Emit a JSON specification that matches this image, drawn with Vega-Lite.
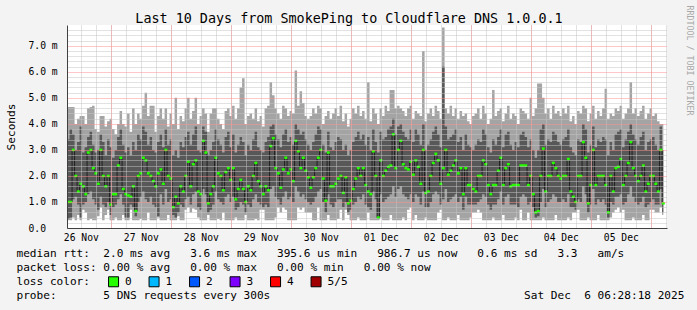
{
"$schema":"https://vega.github.io/schema/vega-lite/v6.json",
"autosize":{"type":"none"},
"width":600,"height":203,
"padding":{"left":67,"top":25,"right":30,"bottom":82},
"background":"#f3f3f3",
"config":{"view":{"fill":"#ffffff","stroke":null},"font":"DejaVu Sans Mono"},
"title":{"text":"Last 10 Days from SmokePing to Cloudflare DNS 1.0.0.1","font":"DejaVu Sans Mono","fontSize":13.4,"fontWeight":"normal","color":"#000000","anchor":"middle","frame":"bounds","offset":-20},
"data":{"values":[
{"t":"2025-11-26T06:00","a":0.3,"b":0.35,"m":1.8,"c":3.2,"d":4.3},
{"t":"2025-11-26T07:00","a":0.3,"b":0.35,"m":1.0,"c":3.4,"d":4.65},
{"t":"2025-11-26T08:00","a":0.3,"b":0.4,"m":1.0,"c":3.8,"d":4.65},
{"t":"2025-11-26T09:00","a":0.4,"b":1.1,"m":3.0,"c":3.6,"d":4.65},
{"t":"2025-11-26T10:00","a":0.3,"b":1.2,"m":2.0,"c":3.0,"d":4.0},
{"t":"2025-11-26T11:00","a":0.5,"b":0.9,"m":1.4,"c":3.3,"d":4.2},
{"t":"2025-11-26T12:00","a":0.3,"b":0.4,"m":1.7,"c":3.9,"d":4.3},
{"t":"2025-11-26T13:00","a":0.7,"b":0.9,"m":1.6,"c":2.9,"d":4.3},
{"t":"2025-11-26T14:00","a":0.6,"b":1.0,"m":1.3,"c":3.1,"d":4.0},
{"t":"2025-11-26T15:00","a":0.3,"b":1.3,"m":2.9,"c":3.5,"d":4.6},
{"t":"2025-11-26T16:00","a":0.35,"b":1.4,"m":3.0,"c":3.7,"d":4.65},
{"t":"2025-11-26T17:00","a":0.3,"b":1.1,"m":2.3,"c":3.2,"d":4.7},
{"t":"2025-11-26T18:00","a":0.3,"b":0.9,"m":2.1,"c":2.9,"d":3.8},
{"t":"2025-11-26T19:00","a":0.45,"b":0.7,"m":1.7,"c":3.0,"d":3.7},
{"t":"2025-11-26T20:00","a":0.8,"b":1.2,"m":3.0,"c":3.6,"d":4.3},
{"t":"2025-11-26T21:00","a":0.3,"b":0.9,"m":2.0,"c":3.3,"d":4.3},
{"t":"2025-11-26T22:00","a":0.5,"b":0.8,"m":1.6,"c":2.8,"d":3.9},
{"t":"2025-11-26T23:00","a":0.7,"b":1.0,"m":2.0,"c":3.4,"d":4.1},
{"t":"2025-11-27T00:00","a":0.3,"b":0.5,"m":0.9,"c":3.1,"d":4.2},
{"t":"2025-11-27T01:00","a":0.3,"b":0.8,"m":1.3,"c":2.7,"d":3.8},
{"t":"2025-11-27T02:00","a":0.4,"b":0.9,"m":1.3,"c":3.0,"d":3.6},
{"t":"2025-11-27T03:00","a":0.3,"b":1.1,"m":2.4,"c":3.5,"d":4.0},
{"t":"2025-11-27T04:00","a":0.3,"b":1.3,"m":2.7,"c":3.8,"d":4.5},
{"t":"2025-11-27T05:00","a":0.5,"b":0.9,"m":1.5,"c":3.2,"d":4.0},
{"t":"2025-11-27T06:00","a":0.3,"b":0.4,"m":1.3,"c":2.9,"d":3.9},
{"t":"2025-11-27T07:00","a":0.3,"b":0.4,"m":1.25,"c":3.1,"d":4.4},
{"t":"2025-11-27T08:00","a":0.7,"b":0.9,"m":1.2,"c":2.8,"d":3.7},
{"t":"2025-11-27T09:00","a":0.3,"b":0.8,"m":1.6,"c":3.3,"d":4.6},
{"t":"2025-11-27T10:00","a":0.3,"b":0.45,"m":0.65,"c":3.0,"d":4.0},
{"t":"2025-11-27T11:00","a":0.3,"b":1.0,"m":2.0,"c":3.6,"d":4.4},
{"t":"2025-11-27T12:00","a":0.35,"b":1.2,"m":2.1,"c":3.4,"d":4.2},
{"t":"2025-11-27T13:00","a":0.3,"b":1.4,"m":2.7,"c":3.9,"d":4.7},
{"t":"2025-11-27T14:00","a":0.3,"b":1.1,"m":2.6,"c":3.7,"d":5.2},
{"t":"2025-11-27T15:00","a":0.6,"b":1.0,"m":2.1,"c":3.2,"d":4.3},
{"t":"2025-11-27T16:00","a":0.3,"b":1.2,"m":2.0,"c":3.5,"d":4.7},
{"t":"2025-11-27T17:00","a":0.3,"b":0.9,"m":1.8,"c":3.0,"d":4.7},
{"t":"2025-11-27T18:00","a":0.3,"b":0.8,"m":1.6,"c":2.9,"d":3.7},
{"t":"2025-11-27T19:00","a":0.4,"b":0.45,"m":2.1,"c":3.3,"d":4.3},
{"t":"2025-11-27T20:00","a":0.3,"b":1.3,"m":2.25,"c":3.6,"d":4.6},
{"t":"2025-11-27T21:00","a":0.3,"b":0.9,"m":1.7,"c":3.1,"d":4.2},
{"t":"2025-11-27T22:00","a":0.3,"b":1.5,"m":3.0,"c":3.8,"d":4.6},
{"t":"2025-11-27T23:00","a":0.5,"b":1.0,"m":2.0,"c":3.2,"d":3.9},
{"t":"2025-11-28T00:00","a":0.3,"b":1.1,"m":1.9,"c":3.4,"d":4.4},
{"t":"2025-11-28T01:00","a":0.3,"b":0.5,"m":0.8,"c":2.8,"d":4.0},
{"t":"2025-11-28T02:00","a":0.3,"b":0.4,"m":1.2,"c":3.0,"d":5.0},
{"t":"2025-11-28T03:00","a":0.45,"b":0.6,"m":0.95,"c":2.7,"d":3.8},
{"t":"2025-11-28T04:00","a":0.3,"b":0.9,"m":1.6,"c":3.3,"d":4.3},
{"t":"2025-11-28T05:00","a":0.3,"b":0.8,"m":1.4,"c":3.1,"d":4.1},
{"t":"2025-11-28T06:00","a":0.7,"b":1.1,"m":2.0,"c":3.5,"d":4.6},
{"t":"2025-11-28T07:00","a":0.8,"b":1.2,"m":2.55,"c":3.7,"d":5.0},
{"t":"2025-11-28T08:00","a":0.6,"b":0.9,"m":1.6,"c":3.2,"d":4.2},
{"t":"2025-11-28T09:00","a":0.75,"b":1.3,"m":2.45,"c":3.6,"d":4.5},
{"t":"2025-11-28T10:00","a":0.7,"b":1.4,"m":2.6,"c":3.9,"d":5.0},
{"t":"2025-11-28T11:00","a":0.4,"b":0.8,"m":1.4,"c":3.0,"d":4.0},
{"t":"2025-11-28T12:00","a":0.3,"b":0.7,"m":1.3,"c":2.9,"d":4.3},
{"t":"2025-11-28T13:00","a":0.3,"b":1.5,"m":3.35,"c":3.9,"d":4.6},
{"t":"2025-11-28T14:00","a":0.3,"b":1.3,"m":2.9,"c":3.7,"d":4.4},
{"t":"2025-11-28T15:00","a":0.5,"b":0.6,"m":0.95,"c":2.8,"d":3.7},
{"t":"2025-11-28T16:00","a":0.3,"b":0.7,"m":1.3,"c":3.0,"d":4.4},
{"t":"2025-11-28T17:00","a":0.3,"b":0.9,"m":1.6,"c":3.3,"d":4.6},
{"t":"2025-11-28T18:00","a":0.3,"b":1.4,"m":2.7,"c":3.8,"d":4.6},
{"t":"2025-11-28T19:00","a":0.35,"b":1.1,"m":2.1,"c":3.4,"d":4.2},
{"t":"2025-11-28T20:00","a":0.3,"b":1.0,"m":2.0,"c":3.2,"d":4.0},
{"t":"2025-11-28T21:00","a":0.6,"b":0.9,"m":1.45,"c":2.9,"d":3.8},
{"t":"2025-11-28T22:00","a":0.3,"b":1.2,"m":2.15,"c":3.5,"d":4.5},
{"t":"2025-11-28T23:00","a":0.3,"b":1.3,"m":2.3,"c":3.7,"d":4.6},
{"t":"2025-11-29T00:00","a":0.3,"b":1.0,"m":1.85,"c":3.1,"d":4.3},
{"t":"2025-11-29T01:00","a":0.3,"b":1.2,"m":2.3,"c":3.6,"d":4.7},
{"t":"2025-11-29T02:00","a":0.4,"b":0.7,"m":1.1,"c":2.9,"d":4.2},
{"t":"2025-11-29T03:00","a":0.3,"b":0.8,"m":1.5,"c":3.2,"d":4.6},
{"t":"2025-11-29T04:00","a":0.3,"b":1.0,"m":1.85,"c":3.5,"d":5.4},
{"t":"2025-11-29T05:00","a":0.3,"b":0.9,"m":1.5,"c":3.3,"d":5.75},
{"t":"2025-11-29T06:00","a":0.5,"b":0.6,"m":1.0,"c":2.8,"d":4.0},
{"t":"2025-11-29T07:00","a":0.3,"b":0.9,"m":1.6,"c":3.2,"d":4.3},
{"t":"2025-11-29T08:00","a":0.3,"b":0.8,"m":1.45,"c":3.0,"d":4.4},
{"t":"2025-11-29T09:00","a":0.3,"b":1.1,"m":2.0,"c":3.4,"d":4.2},
{"t":"2025-11-29T10:00","a":0.35,"b":1.3,"m":2.5,"c":3.7,"d":4.6},
{"t":"2025-11-29T11:00","a":0.3,"b":1.0,"m":1.8,"c":3.1,"d":4.1},
{"t":"2025-11-29T12:00","a":0.7,"b":0.9,"m":1.6,"c":3.0,"d":4.3},
{"t":"2025-11-29T13:00","a":0.7,"b":0.8,"m":1.3,"c":2.9,"d":3.9},
{"t":"2025-11-29T14:00","a":0.3,"b":0.9,"m":1.6,"c":3.3,"d":4.6},
{"t":"2025-11-29T15:00","a":0.3,"b":0.8,"m":1.45,"c":3.5,"d":4.7},
{"t":"2025-11-29T16:00","a":0.3,"b":1.5,"m":3.15,"c":3.9,"d":5.6},
{"t":"2025-11-29T17:00","a":0.3,"b":1.6,"m":3.45,"c":4.0,"d":5.1},
{"t":"2025-11-29T18:00","a":0.4,"b":1.2,"m":2.3,"c":3.6,"d":4.6},
{"t":"2025-11-29T19:00","a":0.8,"b":1.1,"m":2.1,"c":3.4,"d":4.4},
{"t":"2025-11-29T20:00","a":0.6,"b":0.9,"m":1.55,"c":3.1,"d":4.2},
{"t":"2025-11-29T21:00","a":0.8,"b":1.2,"m":2.25,"c":3.6,"d":4.7},
{"t":"2025-11-29T22:00","a":0.7,"b":1.4,"m":2.7,"c":3.8,"d":4.6},
{"t":"2025-11-29T23:00","a":0.3,"b":1.1,"m":2.1,"c":3.3,"d":4.3},
{"t":"2025-11-30T00:00","a":0.3,"b":1.2,"m":2.25,"c":3.5,"d":4.5},
{"t":"2025-11-30T01:00","a":0.3,"b":1.0,"m":1.8,"c":3.2,"d":4.4},
{"t":"2025-11-30T02:00","a":0.3,"b":1.6,"m":3.35,"c":4.0,"d":6.05},
{"t":"2025-11-30T03:00","a":0.8,"b":1.4,"m":2.95,"c":3.8,"d":4.7},
{"t":"2025-11-30T04:00","a":0.7,"b":1.2,"m":2.3,"c":3.6,"d":5.25},
{"t":"2025-11-30T05:00","a":0.8,"b":1.3,"m":2.7,"c":3.7,"d":4.8},
{"t":"2025-11-30T06:00","a":0.6,"b":1.1,"m":2.2,"c":3.4,"d":4.3},
{"t":"2025-11-30T07:00","a":0.6,"b":1.0,"m":1.95,"c":3.2,"d":4.2},
{"t":"2025-11-30T08:00","a":0.6,"b":0.9,"m":1.55,"c":3.0,"d":4.3},
{"t":"2025-11-30T09:00","a":0.3,"b":1.0,"m":1.95,"c":3.3,"d":4.6},
{"t":"2025-11-30T10:00","a":0.3,"b":1.2,"m":2.3,"c":3.6,"d":4.4},
{"t":"2025-11-30T11:00","a":0.8,"b":1.4,"m":2.7,"c":3.9,"d":4.7},
{"t":"2025-11-30T12:00","a":0.3,"b":1.5,"m":3.0,"c":3.8,"d":4.6},
{"t":"2025-11-30T13:00","a":0.3,"b":1.0,"m":1.9,"c":3.2,"d":4.0},
{"t":"2025-11-30T14:00","a":0.3,"b":0.6,"m":1.05,"c":2.9,"d":4.3},
{"t":"2025-11-30T15:00","a":0.5,"b":1.3,"m":2.9,"c":3.7,"d":4.5},
{"t":"2025-11-30T16:00","a":0.3,"b":0.9,"m":1.6,"c":3.1,"d":4.2},
{"t":"2025-11-30T17:00","a":0.3,"b":0.8,"m":1.6,"c":3.0,"d":4.4},
{"t":"2025-11-30T18:00","a":0.3,"b":1.0,"m":1.7,"c":3.3,"d":4.6},
{"t":"2025-11-30T19:00","a":0.35,"b":1.1,"m":1.9,"c":3.5,"d":4.3},
{"t":"2025-11-30T20:00","a":0.7,"b":1.1,"m":2.0,"c":3.4,"d":4.7},
{"t":"2025-11-30T21:00","a":0.3,"b":0.8,"m":1.35,"c":3.0,"d":4.1},
{"t":"2025-11-30T22:00","a":0.7,"b":1.0,"m":1.95,"c":3.2,"d":4.4},
{"t":"2025-11-30T23:00","a":0.5,"b":0.6,"m":0.95,"c":2.8,"d":3.9},
{"t":"2025-12-01T00:00","a":0.3,"b":0.7,"m":1.05,"c":3.0,"d":4.2},
{"t":"2025-12-01T01:00","a":0.3,"b":0.9,"m":1.5,"c":3.3,"d":4.6},
{"t":"2025-12-01T02:00","a":0.3,"b":1.0,"m":1.9,"c":3.5,"d":4.4},
{"t":"2025-12-01T03:00","a":0.4,"b":1.2,"m":2.3,"c":3.7,"d":4.7},
{"t":"2025-12-01T04:00","a":0.3,"b":1.1,"m":2.0,"c":3.4,"d":4.3},
{"t":"2025-12-01T05:00","a":0.3,"b":1.3,"m":2.3,"c":3.6,"d":4.5},
{"t":"2025-12-01T06:00","a":0.3,"b":0.9,"m":1.65,"c":3.2,"d":4.2},
{"t":"2025-12-01T07:00","a":0.6,"b":0.8,"m":1.4,"c":3.5,"d":5.6},
{"t":"2025-12-01T08:00","a":0.3,"b":0.7,"m":1.3,"c":3.0,"d":4.1},
{"t":"2025-12-01T09:00","a":0.3,"b":1.4,"m":2.95,"c":3.8,"d":4.6},
{"t":"2025-12-01T10:00","a":0.3,"b":1.1,"m":2.0,"c":3.3,"d":4.4},
{"t":"2025-12-01T11:00","a":0.3,"b":0.35,"m":0.4,"c":2.9,"d":4.0},
{"t":"2025-12-01T12:00","a":0.4,"b":1.3,"m":2.6,"c":3.7,"d":4.6},
{"t":"2025-12-01T13:00","a":0.3,"b":1.0,"m":2.0,"c":3.4,"d":4.3},
{"t":"2025-12-01T14:00","a":0.3,"b":1.1,"m":2.2,"c":3.5,"d":4.7},
{"t":"2025-12-01T15:00","a":0.3,"b":1.2,"m":2.35,"c":3.8,"d":4.5},
{"t":"2025-12-01T16:00","a":0.5,"b":1.3,"m":2.4,"c":3.9,"d":5.3},
{"t":"2025-12-01T17:00","a":0.3,"b":1.6,"m":3.6,"c":4.2,"d":5.3},
{"t":"2025-12-01T18:00","a":0.3,"b":1.2,"m":2.3,"c":3.6,"d":4.6},
{"t":"2025-12-01T19:00","a":0.3,"b":1.5,"m":3.0,"c":3.9,"d":4.7},
{"t":"2025-12-01T20:00","a":0.3,"b":1.6,"m":3.35,"c":4.0,"d":4.6},
{"t":"2025-12-01T21:00","a":0.4,"b":1.3,"m":2.45,"c":3.7,"d":4.5},
{"t":"2025-12-01T22:00","a":0.3,"b":1.2,"m":2.3,"c":3.5,"d":4.3},
{"t":"2025-12-01T23:00","a":0.7,"b":1.1,"m":2.25,"c":3.4,"d":4.6},
{"t":"2025-12-02T00:00","a":0.8,"b":1.3,"m":2.55,"c":3.8,"d":4.7},
{"t":"2025-12-02T01:00","a":0.3,"b":1.0,"m":2.05,"c":3.3,"d":4.2},
{"t":"2025-12-02T02:00","a":0.5,"b":1.3,"m":2.6,"c":3.8,"d":4.5},
{"t":"2025-12-02T03:00","a":0.3,"b":1.2,"m":2.35,"c":3.6,"d":4.4},
{"t":"2025-12-02T04:00","a":0.3,"b":0.9,"m":1.7,"c":3.2,"d":4.3},
{"t":"2025-12-02T05:00","a":0.3,"b":1.4,"m":3.0,"c":4.0,"d":6.8},
{"t":"2025-12-02T06:00","a":0.4,"b":0.8,"m":1.35,"c":3.0,"d":4.1},
{"t":"2025-12-02T07:00","a":0.3,"b":0.8,"m":1.4,"c":3.2,"d":4.4},
{"t":"2025-12-02T08:00","a":0.3,"b":1.0,"m":2.0,"c":3.4,"d":4.6},
{"t":"2025-12-02T09:00","a":0.3,"b":1.3,"m":2.5,"c":3.7,"d":4.3},
{"t":"2025-12-02T10:00","a":0.3,"b":1.4,"m":2.85,"c":3.9,"d":4.7},
{"t":"2025-12-02T11:00","a":0.6,"b":1.3,"m":2.6,"c":3.6,"d":4.5},
{"t":"2025-12-02T12:00","a":0.7,"b":0.9,"m":1.7,"c":3.1,"d":4.2},
{"t":"2025-12-02T13:00","a":0.3,"b":1.1,"m":2.3,"c":6.2,"d":7.7},
{"t":"2025-12-02T14:00","a":0.3,"b":1.5,"m":3.0,"c":3.9,"d":4.6},
{"t":"2025-12-02T15:00","a":0.4,"b":1.0,"m":2.05,"c":3.4,"d":4.4},
{"t":"2025-12-02T16:00","a":0.3,"b":1.1,"m":2.2,"c":3.5,"d":4.7},
{"t":"2025-12-02T17:00","a":0.3,"b":1.2,"m":2.4,"c":3.6,"d":4.3},
{"t":"2025-12-02T18:00","a":0.3,"b":1.3,"m":2.6,"c":3.8,"d":4.6},
{"t":"2025-12-02T19:00","a":0.5,"b":1.0,"m":2.1,"c":3.3,"d":4.2},
{"t":"2025-12-02T20:00","a":0.3,"b":1.2,"m":2.3,"c":3.5,"d":4.5},
{"t":"2025-12-02T21:00","a":0.3,"b":0.7,"m":1.3,"c":3.0,"d":4.3},
{"t":"2025-12-02T22:00","a":0.3,"b":1.2,"m":2.3,"c":3.6,"d":4.4},
{"t":"2025-12-02T23:00","a":0.3,"b":0.9,"m":1.65,"c":3.2,"d":4.1},
{"t":"2025-12-03T00:00","a":0.4,"b":0.9,"m":1.65,"c":3.1,"d":4.0},
{"t":"2025-12-03T01:00","a":0.6,"b":0.9,"m":1.5,"c":3.0,"d":4.3},
{"t":"2025-12-03T02:00","a":0.6,"b":0.9,"m":1.4,"c":3.2,"d":4.4},
{"t":"2025-12-03T03:00","a":0.7,"b":1.0,"m":2.0,"c":3.4,"d":4.6},
{"t":"2025-12-03T04:00","a":0.6,"b":1.1,"m":2.0,"c":3.3,"d":4.2},
{"t":"2025-12-03T05:00","a":0.3,"b":1.3,"m":2.6,"c":3.8,"d":4.7},
{"t":"2025-12-03T06:00","a":0.3,"b":1.2,"m":2.45,"c":3.6,"d":4.4},
{"t":"2025-12-03T07:00","a":0.3,"b":0.9,"m":1.65,"c":3.1,"d":4.0},
{"t":"2025-12-03T08:00","a":0.3,"b":0.7,"m":1.3,"c":2.9,"d":4.2},
{"t":"2025-12-03T09:00","a":0.4,"b":0.9,"m":1.65,"c":3.4,"d":5.3},
{"t":"2025-12-03T10:00","a":0.3,"b":0.9,"m":1.65,"c":3.2,"d":4.3},
{"t":"2025-12-03T11:00","a":0.3,"b":1.1,"m":2.2,"c":3.5,"d":4.5},
{"t":"2025-12-03T12:00","a":0.3,"b":1.4,"m":2.7,"c":3.8,"d":4.6},
{"t":"2025-12-03T13:00","a":0.5,"b":0.9,"m":1.65,"c":3.1,"d":4.1},
{"t":"2025-12-03T14:00","a":0.3,"b":1.2,"m":2.3,"c":3.6,"d":4.4},
{"t":"2025-12-03T15:00","a":0.3,"b":1.3,"m":2.45,"c":3.7,"d":4.7},
{"t":"2025-12-03T16:00","a":0.3,"b":0.9,"m":1.6,"c":3.2,"d":4.2},
{"t":"2025-12-03T17:00","a":0.3,"b":0.9,"m":1.65,"c":3.0,"d":4.4},
{"t":"2025-12-03T18:00","a":0.4,"b":0.9,"m":1.65,"c":3.3,"d":4.3},
{"t":"2025-12-03T19:00","a":0.3,"b":0.8,"m":1.65,"c":3.1,"d":4.0},
{"t":"2025-12-03T20:00","a":0.7,"b":1.2,"m":2.4,"c":3.6,"d":4.6},
{"t":"2025-12-03T21:00","a":0.3,"b":1.3,"m":2.4,"c":3.7,"d":4.5},
{"t":"2025-12-03T22:00","a":0.3,"b":1.2,"m":2.4,"c":3.5,"d":4.4},
{"t":"2025-12-03T23:00","a":0.6,"b":0.9,"m":1.65,"c":3.1,"d":4.2},
{"t":"2025-12-04T00:00","a":0.3,"b":1.0,"m":2.0,"c":3.4,"d":5.0},
{"t":"2025-12-04T01:00","a":0.3,"b":0.8,"m":1.3,"c":3.0,"d":4.3},
{"t":"2025-12-04T02:00","a":0.3,"b":0.4,"m":0.6,"c":2.7,"d":4.6},
{"t":"2025-12-04T03:00","a":0.3,"b":0.45,"m":0.65,"c":3.0,"d":5.55},
{"t":"2025-12-04T04:00","a":0.3,"b":1.0,"m":2.0,"c":3.8,"d":5.55},
{"t":"2025-12-04T05:00","a":0.4,"b":1.5,"m":3.05,"c":4.0,"d":5.0},
{"t":"2025-12-04T06:00","a":0.3,"b":0.8,"m":1.4,"c":3.2,"d":4.4},
{"t":"2025-12-04T07:00","a":0.3,"b":1.0,"m":2.0,"c":3.4,"d":4.6},
{"t":"2025-12-04T08:00","a":0.3,"b":1.1,"m":2.0,"c":3.3,"d":4.2},
{"t":"2025-12-04T09:00","a":0.3,"b":1.3,"m":2.5,"c":3.7,"d":4.7},
{"t":"2025-12-04T10:00","a":0.5,"b":1.2,"m":2.3,"c":3.6,"d":4.4},
{"t":"2025-12-04T11:00","a":0.3,"b":1.0,"m":2.0,"c":3.3,"d":4.5},
{"t":"2025-12-04T12:00","a":0.3,"b":1.0,"m":1.9,"c":3.2,"d":4.3},
{"t":"2025-12-04T13:00","a":0.3,"b":1.1,"m":2.0,"c":3.4,"d":4.6},
{"t":"2025-12-04T14:00","a":0.3,"b":1.0,"m":2.0,"c":3.5,"d":4.4},
{"t":"2025-12-04T15:00","a":0.4,"b":1.3,"m":2.65,"c":3.8,"d":4.7},
{"t":"2025-12-04T16:00","a":0.3,"b":0.8,"m":1.4,"c":3.1,"d":4.1},
{"t":"2025-12-04T17:00","a":0.6,"b":0.8,"m":1.2,"c":2.9,"d":4.3},
{"t":"2025-12-04T18:00","a":0.6,"b":0.7,"m":1.0,"c":2.8,"d":4.0},
{"t":"2025-12-04T19:00","a":0.7,"b":1.1,"m":2.0,"c":3.4,"d":4.5},
{"t":"2025-12-04T20:00","a":0.3,"b":1.0,"m":2.0,"c":3.3,"d":4.4},
{"t":"2025-12-04T21:00","a":0.3,"b":1.6,"m":3.3,"c":4.0,"d":4.7},
{"t":"2025-12-04T22:00","a":0.3,"b":1.3,"m":2.7,"c":3.8,"d":4.6},
{"t":"2025-12-04T23:00","a":0.4,"b":0.6,"m":0.95,"c":2.9,"d":4.1},
{"t":"2025-12-05T00:00","a":0.3,"b":0.9,"m":1.65,"c":3.2,"d":4.4},
{"t":"2025-12-05T01:00","a":0.3,"b":1.5,"m":3.0,"c":3.9,"d":4.7},
{"t":"2025-12-05T02:00","a":0.3,"b":0.9,"m":1.65,"c":3.1,"d":4.2},
{"t":"2025-12-05T03:00","a":0.5,"b":1.1,"m":2.0,"c":3.4,"d":4.5},
{"t":"2025-12-05T04:00","a":0.3,"b":1.0,"m":2.0,"c":3.3,"d":4.3},
{"t":"2025-12-05T05:00","a":0.3,"b":1.1,"m":2.0,"c":3.5,"d":4.6},
{"t":"2025-12-05T06:00","a":0.3,"b":0.9,"m":1.65,"c":3.4,"d":5.35},
{"t":"2025-12-05T07:00","a":0.3,"b":0.4,"m":0.6,"c":2.8,"d":4.2},
{"t":"2025-12-05T08:00","a":0.4,"b":1.0,"m":2.0,"c":3.3,"d":4.4},
{"t":"2025-12-05T09:00","a":0.6,"b":0.9,"m":1.4,"c":3.0,"d":4.3},
{"t":"2025-12-05T10:00","a":0.7,"b":1.2,"m":2.3,"c":3.6,"d":4.6},
{"t":"2025-12-05T11:00","a":0.8,"b":1.2,"m":2.35,"c":3.7,"d":4.5},
{"t":"2025-12-05T12:00","a":0.6,"b":1.3,"m":2.65,"c":3.8,"d":4.7},
{"t":"2025-12-05T13:00","a":0.7,"b":0.9,"m":1.65,"c":3.1,"d":4.2},
{"t":"2025-12-05T14:00","a":0.3,"b":1.0,"m":2.0,"c":3.4,"d":4.4},
{"t":"2025-12-05T15:00","a":0.3,"b":1.3,"m":2.5,"c":3.7,"d":4.6},
{"t":"2025-12-05T16:00","a":0.3,"b":1.6,"m":3.3,"c":4.0,"d":5.6},
{"t":"2025-12-05T17:00","a":0.4,"b":1.2,"m":2.3,"c":3.6,"d":4.4},
{"t":"2025-12-05T18:00","a":0.3,"b":1.0,"m":2.0,"c":3.4,"d":4.6},
{"t":"2025-12-05T19:00","a":0.3,"b":0.9,"m":1.8,"c":3.2,"d":4.3},
{"t":"2025-12-05T20:00","a":0.3,"b":1.0,"m":2.0,"c":3.5,"d":4.5},
{"t":"2025-12-05T21:00","a":0.5,"b":1.2,"m":2.4,"c":3.7,"d":4.7},
{"t":"2025-12-05T22:00","a":0.3,"b":0.8,"m":1.4,"c":3.0,"d":4.2},
{"t":"2025-12-05T23:00","a":0.3,"b":0.9,"m":1.7,"c":3.3,"d":4.4},
{"t":"2025-12-06T00:00","a":0.7,"b":1.0,"m":2.0,"c":3.4,"d":4.6},
{"t":"2025-12-06T01:00","a":0.7,"b":1.1,"m":2.0,"c":3.5,"d":4.3},
{"t":"2025-12-06T02:00","a":0.6,"b":0.9,"m":1.7,"c":3.2,"d":4.4},
{"t":"2025-12-06T03:00","a":0.6,"b":0.9,"m":1.4,"c":3.0,"d":4.1},
{"t":"2025-12-06T04:00","a":0.8,"b":1.5,"m":3.0,"c":3.9,"d":4.0},
{"t":"2025-12-06T05:00","a":0.5,"b":0.6,"m":0.95,"c":3.0,"d":4.0}
]},
"layer":[
 {"mark":{"type":"area","interpolate":"step","color":"#a4a4a4","clip":true,"opacity":1},
  "encoding":{
   "x":{"field":"t","type":"temporal",
    "scale":{"domain":[{"year":2025,"month":11,"date":26,"hours":6,"minutes":28,"seconds":18},{"year":2025,"month":12,"date":6,"hours":6,"minutes":28,"seconds":18}]},
    "axis":{"orient":"bottom","grid":false,"ticks":false,"domain":false,"labels":false,
     "title":["median\u00a0rtt:\u00a0\u00a02.0\u00a0ms\u00a0avg\u00a0\u00a0\u00a03.6\u00a0ms\u00a0max\u00a0\u00a0\u00a0395.6\u00a0us\u00a0min\u00a0\u00a0\u00a0986.7\u00a0us\u00a0now\u00a0\u00a0\u00a00.6\u00a0ms\u00a0sd\u00a0\u00a0\u00a03.3\u00a0\u00a0\u00a0am/s",
      "packet\u00a0loss:\u00a00.00\u00a0%\u00a0avg\u00a0\u00a0\u00a00.00\u00a0%\u00a0max\u00a0\u00a0\u00a00.00\u00a0%\u00a0min\u00a0\u00a0\u00a00.00\u00a0%\u00a0now",
      "loss\u00a0color:",
      "probe:\u00a0\u00a0\u00a0\u00a0\u00a0\u00a0\u00a05\u00a0DNS\u00a0requests\u00a0every\u00a0300s\u00a0\u00a0\u00a0\u00a0\u00a0\u00a0\u00a0\u00a0\u00a0\u00a0\u00a0\u00a0\u00a0\u00a0\u00a0\u00a0\u00a0\u00a0\u00a0\u00a0\u00a0\u00a0\u00a0\u00a0\u00a0\u00a0\u00a0\u00a0\u00a0\u00a0\u00a0\u00a0\u00a0\u00a0\u00a0\u00a0\u00a0\u00a0Sat\u00a0Dec\u00a0\u00a06\u00a006:28:18\u00a02025"],
     "titleFont":"DejaVu Sans Mono","titleFontSize":11.1,"titleFontWeight":"normal","titleColor":"#000000",
     "titleAnchor":"start","titleAlign":"left","titleBaseline":"top","titleX":-51,"titleY":19,"titleLineHeight":14}},
   "y":{"field":"d","type":"quantitative","scale":{"domain":[0,7.8],"nice":false},
    "axis":{"title":"Seconds","titleFont":"DejaVu Sans Mono","titleFontSize":11.1,"titleFontWeight":"normal","titleColor":"#000000","titlePadding":12,
     "values":[0,0.2,0.4,0.6,0.8,1,1.2,1.4,1.6,1.8,2,2.2,2.4,2.6,2.8,3,3.2,3.4,3.6,3.8,4,4.2,4.4,4.6,4.8,5,5.2,5.4,5.6,5.8,6,6.2,6.4,6.6,6.8,7,7.2,7.4,7.6],
     "labelExpr":"datum.value % 1 == 0 ? (datum.value == 0 ? '0.0' : format(datum.value, '.1f') + ' m') : ''",
     "labelFont":"DejaVu Sans Mono","labelFontSize":9.7,"labelColor":"#000000","labelAlign":"left","labelPadding":39,"labelOverlap":false,"labelFlush":false,
     "ticks":false,"domainColor":"#404040",
     "grid":true,"gridDash":[1,1],"gridOpacity":1,
     "gridColor":{"condition":{"test":"datum.value % 1 == 0","value":"#ff9090"},"value":"#c4c4c4"},
     "zindex":1}},
   "y2":{"field":"a"}}},
 {"mark":{"type":"area","interpolate":"step","color":"#585858","clip":true,"opacity":1},
  "encoding":{
   "x":{"field":"t","type":"temporal",
    "axis":{"orient":"bottom","title":null,"grid":true,"gridColor":"#c4c4c4","gridDash":[1,1],"gridOpacity":1,"tickCount":40,"labels":false,"ticks":false,"domain":false,"zindex":1}},
   "y":{"field":"c","type":"quantitative","scale":{"domain":[0,7.8],"nice":false},
    "axis":{"orient":"right","labels":false,"ticks":false,"domain":false,"grid":false,
     "title":"RRDTOOL / TOBI OETIKER","titleAngle":90,"titleX":21,"titleY":-20,"titleAlign":"left","titleBaseline":"middle",
     "titleFont":"DejaVu Sans Mono","titleFontSize":8.3,"titleFontWeight":"normal","titleColor":"#a8a8a8"}},
   "y2":{"field":"b"}}},
 {"mark":{"type":"line","interpolate":"step","color":"#202020","strokeWidth":1,"clip":true},
  "encoding":{
   "x":{"field":"t","type":"temporal",
    "axis":{"orient":"bottom","title":null,"grid":true,"gridColor":"#ff9090","gridDash":[1,1],"gridOpacity":1,
     "values":[{"year":2025,"month":11,"date":27},{"year":2025,"month":11,"date":28},{"year":2025,"month":11,"date":29},{"year":2025,"month":11,"date":30},{"year":2025,"month":12,"date":1},{"year":2025,"month":12,"date":2},{"year":2025,"month":12,"date":3},{"year":2025,"month":12,"date":4},{"year":2025,"month":12,"date":5},{"year":2025,"month":12,"date":6}],
     "labels":false,"ticks":false,"domain":false,"zindex":1}},
   "y":{"field":"m","type":"quantitative","scale":{"domain":[0,7.8],"nice":false},"axis":null}}},
 {"mark":{"type":"tick","orient":"horizontal","size":3,"thickness":2.5,"clip":true,"opacity":1},
  "encoding":{"x":{"field":"t","type":"temporal",
    "axis":{"orient":"bottom","title":null,"grid":false,"ticks":false,"domain":true,"domainColor":"#404040",
     "values":[{"year":2025,"month":11,"date":26,"hours":12},{"year":2025,"month":11,"date":27,"hours":12},{"year":2025,"month":11,"date":28,"hours":12},{"year":2025,"month":11,"date":29,"hours":12},{"year":2025,"month":11,"date":30,"hours":12},{"year":2025,"month":12,"date":1,"hours":12},{"year":2025,"month":12,"date":2,"hours":12},{"year":2025,"month":12,"date":3,"hours":12},{"year":2025,"month":12,"date":4,"hours":12},{"year":2025,"month":12,"date":5,"hours":12}],
     "format":"%d %b","labelFont":"DejaVu Sans Mono","labelFontSize":9.7,"labelColor":"#000000","labelPadding":4,"labelFlush":false,"labelOverlap":false,"zindex":1}},
   "y":{"field":"m","type":"quantitative","scale":{"domain":[0,7.8],"nice":false},"axis":null},
   "color":{"datum":"0","type":"nominal",
    "scale":{"domain":["0","1","2","3","4","5/5"],"range":["#26ff00","#00b8ff","#0059ff","#7e00ff","#ff0000","#a10000"]},
    "legend":{"title":null,"orient":"none","legendX":41,"legendY":251,"direction":"horizontal","symbolType":"square","symbolSize":100,
     "symbolStrokeColor":"#000000","symbolStrokeWidth":1,"symbolOpacity":1,"labelFont":"DejaVu Sans Mono","labelFontSize":11.1,"labelColor":"#000000",
     "labelOffset":6,"columnPadding":14.5,"padding":0,"offset":0}}}}
],
"resolve":{"axis":{"x":"independent","y":"independent"}}
}
